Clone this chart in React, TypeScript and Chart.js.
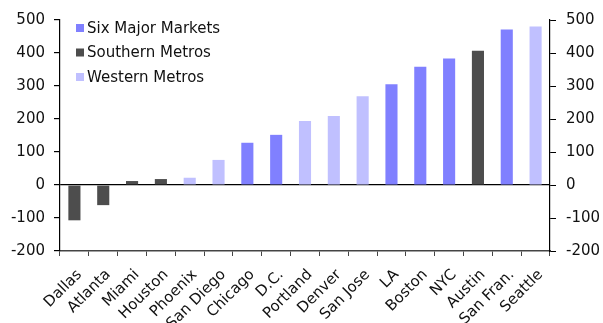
import React, { useEffect, useRef } from "react";
import { Chart, registerables } from "chart.js";

Chart.register(...registerables);

const categories = ["Dallas", "Atlanta", "Miami", "Houston", "Phoenix", "San Diego", "Chicago", "D.C.", "Portland", "Denver", "San Jose", "LA", "Boston", "NYC", "Austin", "San Fran.", "Seattle"];
const values = [-107, -61, 12, 18, 22, 76, 128, 152, 194, 209, 269, 305, 358, 383, 407, 471, 480];
const groups = ["S", "S", "S", "S", "W", "W", "M", "M", "W", "W", "W", "M", "M", "M", "S", "M", "W"];
const seriesNames = ["Six Major Markets", "Southern Metros", "Western Metros"];
const seriesKeys = ["M", "S", "W"];
const seriesColors = ["#8080FF", "#4D4D4D", "#C0C0FF"];
const yTicks = [-200, -100, 0, 100, 200, 300, 400, 500];

const FONT = "'DejaVu Sans', sans-serif";

export default function App() {
  const ref = useRef<HTMLCanvasElement | null>(null);
  useEffect(() => {
    document.body.style.margin = "0";
    const ctx = ref.current!;
    const legendPlugin = {
      id: "customLegend",
      afterDraw(chart: any) {
        const c = chart.ctx;
        c.save();
        c.font = `15px ${FONT}`;
        c.textBaseline = "middle";
        seriesNames.forEach((n, i) => {
          const y = 28 + i * 24.5;
          c.fillStyle = seriesColors[i];
          c.fillRect(76, y - 4, 8, 8);
          c.fillStyle = "#111";
          c.fillText(n, 87, y + 1);
        });
        c.restore();
      },
    };
    const datasets = seriesKeys.map((k, i) => ({
      label: seriesNames[i],
      data: values.map((v, j) => (groups[j] === k ? v : null)),
      backgroundColor: seriesColors[i],
      borderWidth: 0,
      barPercentage: 0.42,
      categoryPercentage: 1,
    }));
    const chart = new Chart(ctx, {
      type: "bar",
      data: { labels: categories, datasets },
      plugins: [legendPlugin],
      options: {
        animation: false,
        responsive: false,
        maintainAspectRatio: false,
        layout: { padding: { top: 20, left: 0, right: 0, bottom: 0 } },
        plugins: { legend: { display: false }, tooltip: { enabled: false }, title: { display: false } },
        scales: {
          x: {
            stacked: true,
            offset: true,
            grid: { offset: true, drawOnChartArea: false, tickLength: 5, color: "#444", tickColor: "#444" },
            border: { color: "#444", width: 1.5 },
            ticks: { maxRotation: 45, minRotation: 45, color: "#111", font: { family: FONT, size: 15 }, padding: 10, labelOffset: 5, autoSkip: false },
            afterFit(s: any) { s.height = 72; },
          },
          y: {
            stacked: true,
            min: -200,
            max: 500,
            position: "left",
            afterBuildTicks(s: any) { s.ticks = yTicks.map((v) => ({ value: v })); },
            grid: {
              drawOnChartArea: true,
              tickLength: 6,
              tickColor: "#000",
              color: (c: any) => (c.tick && c.tick.value === 0 ? "#000" : "rgba(0,0,0,0)"),
              lineWidth: 1.2,
            },
            border: { color: "#000", width: 1.2 },
            ticks: { color: "#111", font: { family: FONT, size: 15 }, padding: 9 },
            afterFit(s: any) { s.width = 60; },
          },
          y2: {
            min: -200,
            max: 500,
            position: "right",
            afterBuildTicks(s: any) { s.ticks = yTicks.map((v) => ({ value: v })); },
            grid: { drawOnChartArea: false, tickLength: 6, tickColor: "#000", color: "#000" },
            border: { color: "#000", width: 1.2 },
            ticks: { color: "#111", font: { family: FONT, size: 15 }, padding: 10 },
            afterFit(s: any) { s.width = 53; },
          },
        },
      },
    });
    return () => chart.destroy();
  }, []);
  return (
    <div style={{ position: "absolute", left: 0, top: 0, width: 603, height: 323, background: "#fff" }}>
      <canvas ref={ref} width={603} height={323} style={{ width: 603, height: 323 }} />
    </div>
  );
}
